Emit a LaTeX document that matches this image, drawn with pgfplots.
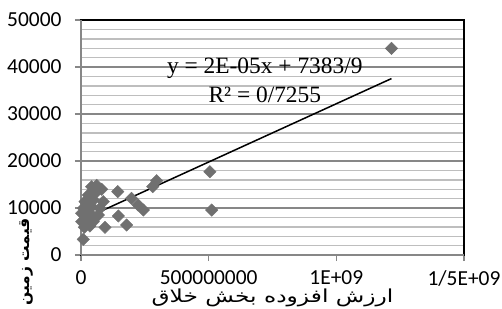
\documentclass[border=0pt]{standalone}
\usepackage{fontspec}
\usepackage{graphicx}
\usepackage{pgfplots}
\pgfplotsset{compat=1.18}
\setmainfont{Carlito}
\newfontfamily\timesfont{Liberation Serif}
\newfontfamily\arabicfont[Script=Arabic]{DejaVu Sans}
\TeXXeTstate=1
\definecolor{mk}{RGB}{112,112,112}
\definecolor{majg}{RGB}{135,135,135}
\definecolor{ming}{RGB}{190,190,190}
\begin{document}
\begin{tikzpicture}
\useasboundingbox (-81bp,-54bp) rectangle (421bp,255bp);
\begin{axis}[
  at={(0,0)}, anchor=south west,
  scale only axis, width=383bp, height=235bp,
  xmin=0, xmax=1.5e9, ymin=0, ymax=50000,
  xtick={0,5e8,1e9,1.5e9},
  xticklabels={0,500000000,1E+09,1/5E+09},
  ytick={0,10000,20000,30000,40000,50000},
  yticklabels={0,10000,20000,30000,40000,50000},
  minor y tick num=4,
  ymajorgrids, yminorgrids,
  major grid style={majg, line width=1.6bp},
  minor grid style={ming, line width=1.4bp},
  axis line style={black, line width=1.4bp},
  tick align=outside,
  xtick pos=bottom, ytick pos=left,
  major tick length=6bp, minor tick length=0pt,
  tick style={majg, line width=1.4bp},
  every tick label/.append style={font=\fontsize{21.5}{23}\selectfont},
  yticklabel style={xshift=-10bp},
  xticklabel style={yshift=-8bp, inner ysep=1pt},
  scaled x ticks=false, scaled y ticks=false,
  clip=false,
]
\addplot[only marks, mark=square*, mark size=4.4bp, mark options={fill=mk, draw=mk, rotate=45}] coordinates {
(9.0e6,3340) (12.9e6,5900) (35.2e6,6170) (94e6,5900) (146e6,8300) (179e6,6380)
(144e6,13470) (198e6,12060) (224e6,10640) (244e6,9570) (281e6,14530) (296e6,15810)
(505e6,17720) (512e6,9570) (1216e6,43980)
(41.9e6,14530) (61.5e6,14800) (81e6,13980) (28.6e6,12770) (54.8e6,13130)
(15.7e6,11340) (48.2e6,11700) (87.3e6,11340) (9e6,9940) (41.9e6,10280)
(74.4e6,9940) (2.7e6,8870) (35.2e6,8870) (67.7e6,8510) (22.3e6,7600)
(48.2e6,7090) (2.7e6,7090)
};
\addplot[black, line width=1.5bp] coordinates {(5e6,7508) (1216e6,37540)};
\draw[majg, line width=2bp] (rel axis cs:0,0) -- (rel axis cs:0,1);
\draw[majg, line width=1.6bp] (rel axis cs:0,0) -- (rel axis cs:1,0);
\node[font=\timesfont\fontsize{23.5}{23.5}\selectfont, anchor=center] at (axis cs:7.2e8,39800) {y = 2E-05x + 7383/9};
\node[font=\timesfont\fontsize{23.5}{23.5}\selectfont, anchor=center] at (axis cs:7.2e8,34100) {R² = 0/7255};
\node[font=\arabicfont\fontsize{18}{18}\selectfont, anchor=center, inner sep=0pt] at ([yshift=-43bp]rel axis cs:0.5,0) {\scalebox{1.3}[1]{\beginR ارزش افزوده بخش خلاق\endR}};
\node[font=\arabicfont\bfseries\fontsize{15.5}{15.5}\selectfont, rotate=90, anchor=center, inner sep=0pt] at ([xshift=-55bp,yshift=-7bp]rel axis cs:0,0) {\beginR قیمت زمین\endR};
\end{axis}
\end{tikzpicture}
\end{document}
